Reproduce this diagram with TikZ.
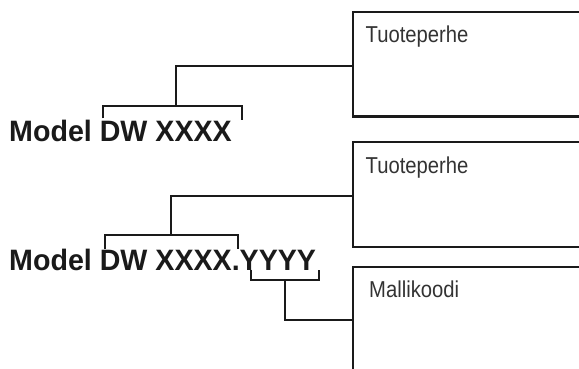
\documentclass[tikz,border=0pt]{standalone}
\usepackage{fontspec}
\setmainfont{Liberation Sans}
\newfontfamily\lblfont[FakeStretch=0.88]{Liberation Sans}
\newfontfamily\mdlfont[FakeStretch=0.97]{Liberation Sans Bold}
\definecolor{ink}{HTML}{1A1A1A}
\definecolor{lblink}{HTML}{333333}
\begin{document}
\begin{tikzpicture}[x=1pt,y=-1pt,
  box/.style={draw=ink,line width=2.4pt,anchor=north west,minimum width=260pt,inner sep=0pt},
  conn/.style={draw=ink,line width=2pt},
  model/.style={anchor=base west,inner sep=0pt,text=ink,font=\mdlfont\fontsize{29.5}{32}\selectfont},
  lbl/.style={anchor=base west,inner sep=0pt,text=lblink,font=\lblfont\fontsize{23}{26}\selectfont}]
\useasboundingbox (0,0) rectangle (579,369);
\clip (0,0) rectangle (579,369);
% boxes
\node[box,minimum height=104.5pt] (box1) at (352,10.7) {};
\node[box,minimum height=105pt] (box2) at (352,141) {};
\node[box,minimum height=130pt] (box3) at (352,265.5) {};
\node[lbl] (t1) at ([xshift=13.5pt,yshift=-32pt]box1.north west) {Tuoteperhe};
\node[lbl] (t2) at ([xshift=13.5pt,yshift=-32pt]box2.north west) {Tuoteperhe};
\node[lbl] (t3) at ([xshift=17pt,yshift=-32pt]box3.north west) {Mallikoodi};
% model texts
\node[model] (m1) at (9,141) {Model DW XXXX};
\node[model] (m2) at (9,270) {Model DW XXXX.YYYY};
% bracket 1
\coordinate (a1) at (103.4,118.5);
\coordinate (b1) at (241.7,120);
\coordinate (j1) at (176,106.5);
\coordinate (h1) at (176,66);
\draw[conn] (a1) -- (a1 |- j1) -- (b1 |- j1) -- (b1);
\draw[conn] (j1) -- (h1) -- (box1.west |- h1);
% bracket 2
\coordinate (a2) at (104.5,248.5);
\coordinate (b2) at (237.5,248.5);
\coordinate (j2) at (170.7,235.3);
\coordinate (h2) at (170.7,196);
\draw[conn] (a2) -- (a2 |- j2) -- (b2 |- j2) -- (b2);
\draw[conn] (j2) -- (h2) -- (box2.west |- h2);
% bracket 3
\coordinate (a3) at (250.8,269.5);
\coordinate (b3) at (319.2,269.5);
\coordinate (j3) at (285.2,279.5);
\coordinate (h3) at (285.2,320);
\draw[conn] (a3) -- (a3 |- j3) -- (b3 |- j3) -- (b3);
\draw[conn] (j3) -- (h3) -- (box3.west |- h3);
\end{tikzpicture}
\end{document}
